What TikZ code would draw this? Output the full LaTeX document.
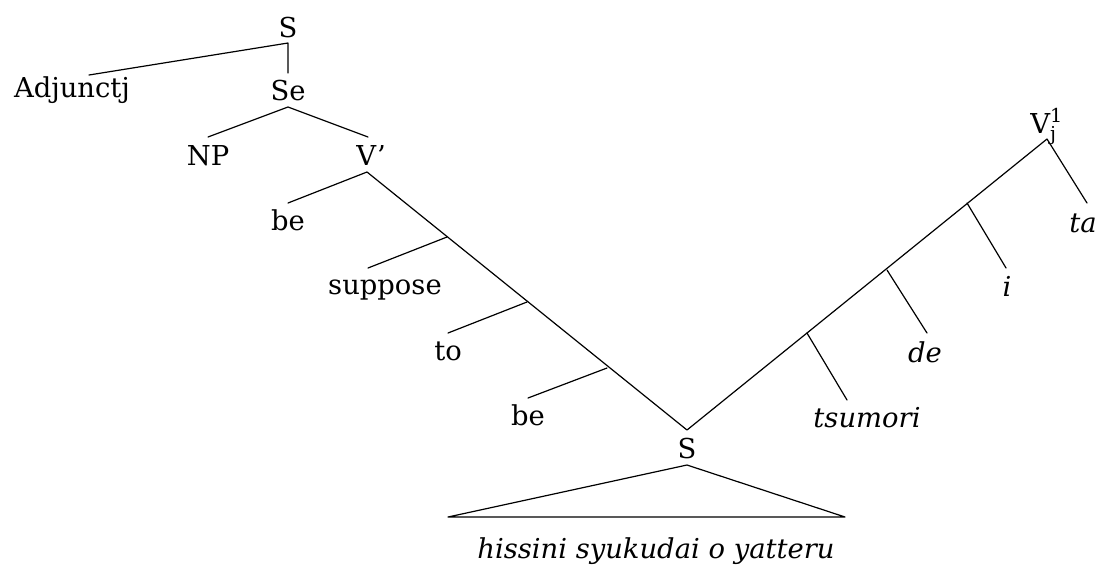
\documentclass[tikz,border=0pt]{standalone}
\usepackage{fontspec}
\setmainfont{DejaVu Serif}
\begin{document}
\begin{tikzpicture}[x=0.5pt,y=-0.5pt,
  lbl/.style={anchor=base,inner sep=0pt,font=\fontsize{13.7}{16}\selectfont},
  jp/.style={lbl,font=\fontsize{13.7}{16}\selectfont\itshape},
  branch/.style={line width=0.6pt,line cap=round,line join=round}]
\useasboundingbox (0,0) rectangle (1099,570);
% labels
\node[lbl] (S0) at (288,37) {S};
\node[lbl] (Adj) at (72,97) {Adjunctj};
\node[lbl] (Se) at (288,100) {Se};
\node[lbl] (NP) at (208,165) {NP};
\node[lbl] (Vp) at (371,165) {V'};
\node[lbl] (be1) at (288,230) {be};
\node[lbl] (suppose) at (385,294) {suppose};
\node[lbl] (to) at (448,360) {to};
\node[lbl] (be2) at (528,425) {be};
\node[lbl] (S1) at (687,458) {S};
\node[jp] (hiss) at (656,558) {hissini syukudai o yatteru};
\node[jp] (tsumori) at (867,427) {tsumori};
\node[jp] (de) at (925,362) {de};
\node[jp] (i) at (1007,296) {i};
\node[jp] (ta) at (1083,232) {ta};
\node[lbl,anchor=base west] (Vj) at (1030,133) {V$^{\mathrm{1}}_{\mathrm{j}}$};
% connector points
\coordinate (a0) at (288,43);
\coordinate (adjEnd) at (89,75);
\coordinate (seTop) at (288,73);
\coordinate (seBot) at (288,107);
\coordinate (npTop) at (208,137);
\coordinate (vpTop) at (368,137);
\coordinate (vpBot) at (367,172);
\coordinate (be1End) at (288,203);
\coordinate (b1) at (447,237);
\coordinate (b1e) at (368,268);
\coordinate (b2) at (527,302);
\coordinate (b2e) at (448,333);
\coordinate (b3) at (607,368);
\coordinate (b3e) at (528,398);
\coordinate (sTop) at (687,430);
\coordinate (r1) at (807,333);
\coordinate (r1e) at (847,400);
\coordinate (r2) at (887,270);
\coordinate (r2e) at (927,333);
\coordinate (r3) at (967,203);
\coordinate (r3e) at (1006,268);
\coordinate (vTop) at (1047,139);
\coordinate (taEnd) at (1087,203);
\coordinate (triApex) at (687,465);
\coordinate (triL) at (448,517);
\coordinate (triR) at (845,517);
% branches
\draw[branch] (adjEnd) -- (a0) -- (seTop);
\draw[branch] (npTop) -- (seBot) -- (vpTop);
\draw[branch] (be1End) -- (vpBot) -- (sTop) -- (vTop) -- (taEnd);
\draw[branch] (b1) -- (b1e);
\draw[branch] (b2) -- (b2e);
\draw[branch] (b3) -- (b3e);
\draw[branch] (r1) -- (r1e);
\draw[branch] (r2) -- (r2e);
\draw[branch] (r3) -- (r3e);
\draw[branch] (triApex) -- (triL) -- (triR) -- cycle;
\end{tikzpicture}
\end{document}
